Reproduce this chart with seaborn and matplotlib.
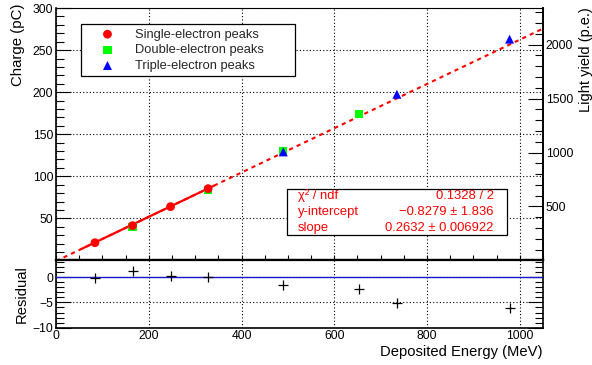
import numpy as np
import pandas as pd
import matplotlib
matplotlib.use("Agg")
import matplotlib.pyplot as plt
from matplotlib.ticker import MultipleLocator
from matplotlib.patches import Rectangle
import seaborn as sns

# ---------------- data ----------------
single_E = [84, 165, 247, 328]
single_Q = [21.0, 41.3, 63.9, 85.3]
double_E = [165, 328, 490, 654]
double_Q = [40.0, 84.0, 130.0, 173.7]
triple_E = [490, 735, 978]
triple_Q = [129.0, 197.5, 263.0]

resid_E = [84, 165, 247, 328, 490, 654, 735, 978]
resid_val = [-0.15, 1.2, 0.15, 0.0, -1.5, -2.4, -5.1, -6.2]

fit_intercept = -0.8279
fit_slope = 0.2632
fit_range = [55, 340]
full_range = [0, 1050]

stats_names = ["χ² / ndf", "y-intercept", "slope"]
stats_values = ["0.1328 / 2", "−0.8279 ± 1.836", "0.2632 ± 0.006922"]

legend_labels = ["Single-electron peaks", "Double-electron peaks", "Triple-electron peaks"]

charge_ticks = [50, 100, 150, 200, 250, 300]
light_ticks = [500, 1000, 1500, 2000]
light_max = 2340
resid_ticks = [-10, -5, 0]
energy_ticks = [0, 200, 400, 600, 800, 1000]

# ---------------- style ----------------
sns.set_theme(style="white")
plt.rcParams["font.family"] = ["Liberation Sans", "DejaVu Sans"]
plt.rcParams["axes.unicode_minus"] = True

fig = plt.figure(figsize=(5.92, 3.65), dpi=100)
ax = fig.add_axes([0.0946, 0.2866, 0.8226, 0.6914])
axr = fig.add_axes([0.0946, 0.1022, 0.8226, 0.1844])

RED = "#ff0000"
GREEN = "#00ff00"
BLUE = "#0000ff"
grid_kw = dict(color="black", linestyle=(0, (1, 2)), linewidth=0.8)

# ---------------- top panel ----------------
ax.set_xlim(*full_range)
ax.set_ylim(0, 300)

xf = np.array(full_range, dtype=float)
xs = np.array(fit_range, dtype=float)
df_full = pd.DataFrame({"E": xf, "Q": fit_intercept + fit_slope * xf})
df_fit = pd.DataFrame({"E": xs, "Q": fit_intercept + fit_slope * xs})
sns.lineplot(data=df_full, x="E", y="Q", ax=ax, color=RED, linewidth=1.5,
             linestyle=(0, (2, 2)), zorder=3)
sns.lineplot(data=df_fit, x="E", y="Q", ax=ax, color=RED, linewidth=1.6, zorder=3)

sns.scatterplot(x=double_E, y=double_Q, ax=ax, marker="s", s=34, color=GREEN,
                edgecolor="none", zorder=4, label=legend_labels[1])
sns.scatterplot(x=triple_E, y=triple_Q, ax=ax, marker="^", s=42, color=BLUE,
                edgecolor="none", zorder=5, label=legend_labels[2])
sns.scatterplot(x=single_E, y=single_Q, ax=ax, marker="o", s=40, color=RED,
                edgecolor="none", zorder=6, label=legend_labels[0])

handles, labels = ax.get_legend_handles_labels()
order = [labels.index(l) for l in legend_labels]
leg = ax.legend([handles[i] for i in order], [labels[i] for i in order],
                loc="upper left", bbox_to_anchor=(0.0513, 0.728, 0.4395, 0.2086),
                mode="expand", fancybox=False, framealpha=1, edgecolor="black",
                fontsize=9.3, handlelength=3.4, handletextpad=0.45,
                labelspacing=0.28, borderpad=0.35, borderaxespad=0)
leg.get_frame().set_linewidth(0.9)
leg.set_zorder(10)

ax.set_yticks(charge_ticks)
ax.yaxis.set_minor_locator(MultipleLocator(10))
ax.xaxis.set_major_locator(MultipleLocator(200))
ax.xaxis.set_minor_locator(MultipleLocator(50))
ax.tick_params(axis="y", which="both", direction="in", left=True, right=False,
               labelsize=8.7, pad=2, width=0.8, color="black", labelcolor="black")
ax.tick_params(axis="y", which="major", length=11)
ax.tick_params(axis="y", which="minor", length=5.5)
ax.tick_params(axis="x", which="both", direction="in", bottom=True, top=False,
               labelbottom=False, length=3.5, width=0.8, color="black")
ax.grid(True, which="major", **grid_kw)
ax.set_axisbelow(True)

ax.set_ylabel("Charge (pC)", fontsize=10.8, loc="top", color="black")
ax.yaxis.set_label_coords(-0.064, 1.016)
ax.set_xlabel("")

for side in ["left", "right", "bottom"]:
    ax.spines[side].set_linewidth(1.2)
    ax.spines[side].set_color("black")
ax.spines["bottom"].set_linewidth(1.6)
ax.spines["top"].set_linewidth(0.8)
ax.spines["top"].set_color("black")

# stats box
ax.add_patch(Rectangle((0.4743, 0.0994), 0.4517, 0.1846, transform=ax.transAxes,
                       facecolor="white", edgecolor="black", linewidth=0.9, zorder=8))
for name, val, yy in zip(stats_names, stats_values, [0.255, 0.192, 0.128]):
    ax.text(0.497, yy, name, transform=ax.transAxes, color=RED, fontsize=9.4,
            ha="left", va="center", zorder=9)
    ax.text(0.899, yy, val, transform=ax.transAxes, color=RED, fontsize=9.4,
            ha="right", va="center", zorder=9)

# right axis: light yield
ax2 = ax.twinx()
ax2.set_ylim(0, light_max)
ax2.set_yticks(light_ticks)
ax2.yaxis.set_minor_locator(MultipleLocator(100))
ax2.tick_params(axis="y", which="both", direction="in", right=True, left=False,
                labelsize=8.7, pad=2, width=0.8, color="black", labelcolor="black")
ax2.tick_params(axis="y", which="major", length=11)
ax2.tick_params(axis="y", which="minor", length=6)
ax2.set_ylabel("Light yield (p.e.)", fontsize=10.5, loc="top", color="black")
ax2.yaxis.set_label_coords(1.074, 1.005)
ax2.grid(False)
for sp in ax2.spines.values():
    sp.set_visible(False)
ax2.spines["right"].set_visible(True)
ax2.spines["right"].set_linewidth(1.2)
ax2.spines["right"].set_color("black")

# ---------------- residual panel ----------------
axr.set_xlim(*full_range)
axr.set_ylim(-10, 3.3)
axr.axhline(0, color="#1a1acc", linewidth=1.0, zorder=3)
sns.scatterplot(x=resid_E, y=resid_val, ax=axr, marker="+", s=45, color="black",
                linewidth=0.9, zorder=4)
axr.set_xticks(energy_ticks)
axr.set_yticks(resid_ticks)
axr.yaxis.set_minor_locator(MultipleLocator(1))
axr.tick_params(axis="x", which="both", length=0, labelsize=8.7, pad=2,
                labelcolor="black")
axr.tick_params(axis="y", which="both", direction="in", left=True, right=True,
                labelsize=8.7, pad=2, width=0.8, color="black", labelcolor="black")
axr.tick_params(axis="y", which="major", length=11)
axr.tick_params(axis="y", which="minor", length=5.5)
axr.grid(True, which="major", **grid_kw)
axr.set_axisbelow(True)
axr.set_ylabel("Residual", fontsize=10.6, color="black")
axr.yaxis.set_label_coords(-0.055, 0.5)
axr.set_xlabel("Deposited Energy (MeV)", fontsize=10.6, loc="right", color="black")
axr.xaxis.set_label_coords(1.0, -0.25)
for sp in axr.spines.values():
    sp.set_linewidth(1.2)
    sp.set_color("black")
axr.spines["top"].set_linewidth(1.6)

fig.savefig("out.png", dpi=100)
